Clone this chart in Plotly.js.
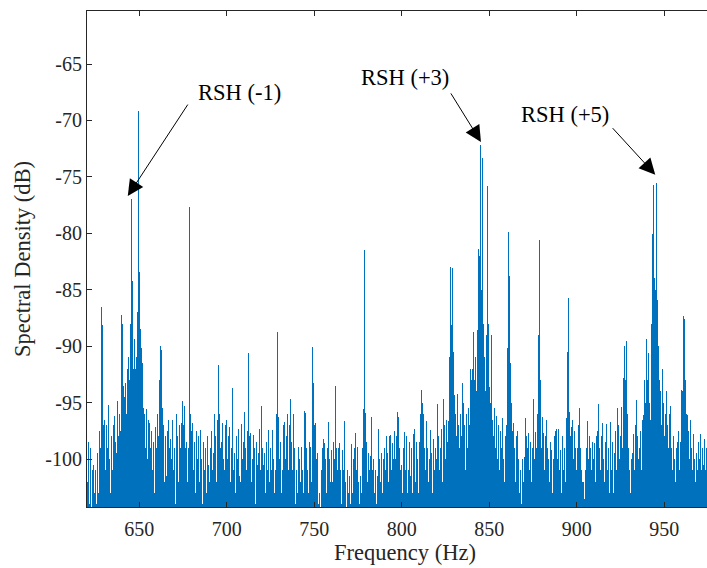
<!DOCTYPE html>
<html>
<head>
<meta charset="utf-8">
<script src="https://cdn.plot.ly/plotly-3.0.1.min.js"></script>
<style>html,body{margin:0;padding:0;background:#fff;overflow:hidden;width:707px;height:568px}</style>
</head>
<body>
<div id="chart" style="width:723px;height:568px"></div>
<script>
// Spectrum sampled every 0.5 Hz starting at 620 Hz (dB)
const freqStart = 620;
const freqStep = 0.5;
const density = [
// 620
-97.0,-102,-98.5,-104,-99,-105,-101,-106,-100.5,-103,
-101,-104,-99.5,-103,-97.5,-101,-99,-86.5,-88.1,-97,
-96.5,-101,-97,-95.5,-99,-95.2,-100,-103,-98,-101,
-97,-100,-96.2,-98.5,-99.5,-94.9,-98,-96,-97.5,-92.5,
// 640
-87.2,-88,-93.5,-94.5,-93.3,-96,-92,-95,-91,-93,
-88,-77.0,-84.2,-92,-89.4,-93.5,-92,-91,-87,-69.2,
-83.4,-88.5,-90.2,-93,-91.5,-95.5,-96,-99,-95.6,-100,
-96.5,-102,-96.8,-99,-97.5,-101,-98.5,-103,-97.2,-100,
// 660
-99,-96,-98,-93,-90.0,-90.3,-95.5,-100,-97,-102,
-98,-101.5,-97.5,-96.5,-99,-103,-98.2,-100,-96.5,-101,
-99,-104,-96,-100.5,-98,-102,-97,-99,-96.8,-94.9,
-97,-101,-95.3,-99,-98.5,-102,-99,-77.7,-96,-100,
// 680
-97.5,-96.8,-101,-98.5,-103,-97.5,-100,-95.3,-98,-102,
-97.4,-100,-104,-98.5,-101,-97.4,-99,-103,-98,-100.5,
-102,-99,-97.5,-97.4,-101,-99.5,-96,-98,-102,-96.5,
-91.7,-92.2,-96,-99,-98.5,-96.8,-100,-101,-97,-94.1,
// 700
-96.5,-100,-98,-97.2,-102,-99,-93.7,-97.2,-101,-99.5,
-103,-98,-100,-97.3,-101.5,-99,-102,-96.9,-100,-98.5,
-95.8,-99,-101,-98,-97.5,-90.6,-98,-97.7,-102,-100,
-97.9,-101,-99,-104,-98.5,-100.5,-99.5,-97.3,-101,-98,
// 720
-95.3,-99,-100.5,-99.5,-103,-98.5,-101,-100,-97.4,-102,
-99,-101,-97.4,-100,-103,-98.2,-101,-96,-88.7,-96.3,
-100,-98.5,-103,-99,-101,-97,-96.7,-100,-98,-96,
-101,-99,-97,-94.7,-98.5,-101,-96,-99,-104,-98.5,
// 740
-101,-103,-98.9,-100,-102,-98.9,-101,-99.5,-103,-95.7,
-95.9,-99,-101,-103,-98.5,-100,-98.9,-102,-90.1,-93.3,
-97,-96.8,-100,-102,-99.5,-104,-103,-105,-101,-99,
-98.2,-101,-98.6,-100,-103,-99,-96.7,-100,-102,-99.5,
// 760
-99.2,-102,-98.5,-100,-93.5,-99,-101,-103,-99,-98.6,
-101,-104,-99.2,-101,-96.6,-100,-102,-105,-101,-103,
-101.5,-104,-98.7,-101,-103,-100,-99,-97.7,-101,-98.9,
-102,-100,-104,-101.5,-103,-99,-95.6,-81.5,-95.9,-100,
// 780
-98.5,-102,-99.5,-101,-99.7,-96.3,-101,-97,-100,-103,
-101,-104,-101.5,-97.3,-100,-97.8,-102,-99.5,-103,-100,
-99,-101,-98,-95.6,-99.5,-102,-98,-97.9,-101,-98.6,
-100,-103,-97.5,-100,-98,-95.8,-96.3,-99,-101,-98.5,
// 800
-100.5,-103,-99,-97.6,-101,-98,-103,-99.5,-101,-98.5,
-101.5,-99,-103,-97.8,-97.3,-100,-102,-98.5,-100,-103,
-98.5,-96,-93.9,-89.3,-95,-96,-99,-101,-96.6,-99,
-102,-98.5,-100,-97.4,-99.5,-103,-98.2,-101,-99,-97.5,
// 820
-100,-95.1,-98,-101,-99,-97.3,-102,-98,-94.7,-97,
-100,-96.5,-98.5,-96.6,-91,-84.1,-83.0,-88.1,-83.1,-90.5,
-94.3,-96,-98,-94.5,-94.2,-97,-99,-96,-98,-93.3,
-95,-99.4,-97,-101,-96,-99,-95.5,-97,-92,-89.0,
// 840
-93,-92,-88.7,-93,-91,-94,-88.6,-86,-81.4,-82,
-72.2,-85,-73.3,-88,-91.0,-92.5,-94,-89,-75.8,-88,
-93.6,-95,-89,-94,-96.5,-98,-95.5,-99,-96.2,-100,
-97,-98.5,-101,-97.5,-99,-96.4,-100,-102,-98,-95.5,
// 860
-97,-90.2,-79.9,-83.8,-91.5,-95,-97.5,-100,-96.8,-99,
-102,-98,-97.5,-100,-103,-99,-101,-104,-100,-102,
-99.8,-96.4,-98,-93.7,-99,-97.7,-101,-98.5,-102,-99,
-94.7,-98,-100,-97.6,-99,-96,-89,-80.6,-93,-95.5,
// 880
-99,-96.3,-97.7,-101,-98,-96.5,-99,-96.5,-100,-102,
-98.5,-99.2,-103,-100,-98,-101,-97.5,-97.3,-100,-97.3,
-101,-99.2,-103,-100,-98,-101,-99,-102,-96.4,-90.5,
-85.7,-93,-95.8,-98,-97.2,-96.5,-100,-97.5,-99,-97.1,
// 900
-101,-99,-97,-95.5,-99,-101,-102,-104,-102,-103.5,
-101,-99,-96.6,-100,-98,-95.1,-99,-101,-98.5,-100,
-98.6,-102,-98,-100,-97.5,-95.1,-99,-101,-98,-96.8,
-100,-97,-102,-98.5,-96.9,-101,-99,-103,-96.7,-99,
// 920
-101,-98.5,-103,-99.5,-97.5,-101,-95.5,-99,-97,-100,
-98,-95.4,-99,-92.8,-90,-80.3,-93,-89.5,-96,-99,
-101,-103,-100,-97,-99.5,-97.8,-101,-97,-94.8,-98,
-100,-96.5,-99,-97.5,-101,-96.5,-96.1,-93,-95,-92,
// 940
-89.4,-93,-90.6,-95,-96.5,-88,-80.1,-81.5,-75.7,-84,
-85,-75.5,-85.9,-90,-93,-95.7,-94,-97,-92,-95,
-98,-96,-94,-91.5,-97,-99,-96,-95.3,-99,-101,
-98,-97.3,-100,-102,-99,-98.5,-97.5,-101,-98.5,-96,
// 960
-93.9,-94,-87.3,-87.6,-93,-96,-96.1,-99,-97.5,-100,
-96.5,-99,-101,-97.8,-100,-98.3,-102,-99.5,-101,-98.5,
-100,-97.8,-101,-103,-99,-100.5,-98.2,-101,-99,-102,
-98
];

const xTicks = [650, 700, 750, 800, 850, 900, 950];
const yTicks = [-100, -95, -90, -85, -80, -75, -70, -65];
const xRange = [620.1, 983.5];
const yRange = [-104.25, -60.3];
const floorLevel = -120;

const labels = ['RSH (-1)', 'RSH (+3)', 'RSH (+5)'];
const labelX = [707.0, 801.8, 893.2];
const labelY = [-67.5, -66.2, -69.5];
const arrowTipX = [643.4, 845.2, 944.8];
const arrowTipY = [-76.7, -71.9, -74.8];
const arrowAX = [61, -31, -44];
const arrowAY = [-93, -50, -48];

const blue = '#0072BD';
const axisCol = '#262626';
const serif = 'Liberation Serif, Times New Roman, serif';

const freqs = density.map((_, i) => freqStart + i * freqStep);
const heights = density.map(v => v - floorLevel);

const traces = [
  {type: 'bar', x: freqs, y: heights, base: floorLevel, width: freqStep,
   marker: {color: blue, line: {width: 0}}, showlegend: false}
];

const annotations = [];
for (let i = 0; i < labels.length; i++) {
  annotations.push({x: labelX[i], y: labelY[i], xref: 'x', yref: 'y', text: labels[i],
    showarrow: false, font: {family: serif, size: 22.5, color: '#000'}, xanchor: 'center', yanchor: 'middle'});
  annotations.push({x: arrowTipX[i], y: arrowTipY[i], xref: 'x', yref: 'y', text: '',
    showarrow: true, ax: arrowAX[i], ay: arrowAY[i], arrowhead: 2, arrowsize: 3.2, arrowwidth: 1, arrowcolor: '#000'});
}

const layout = {
  width: 723, height: 568,
  margin: {l: 87, r: 0, t: 11, b: 61},
  paper_bgcolor: '#fff', plot_bgcolor: '#fff',
  showlegend: false, bargap: 0,
  font: {family: serif, color: axisCol},
  xaxis: {
    range: xRange, tickvals: xTicks, ticktext: xTicks.map(String), ticks: 'inside', ticklen: 5, tickcolor: axisCol,
    showline: true, linecolor: axisCol, linewidth: 1, mirror: 'ticks', showgrid: false, zeroline: false,
    ticklabelstandoff: 4,
    tickfont: {family: serif, size: 20, color: axisCol},
    title: {text: 'Frequency (Hz)', font: {family: serif, size: 22.5, color: axisCol}, standoff: 3}
  },
  yaxis: {
    range: yRange, tickvals: yTicks, ticktext: yTicks.map(String), ticks: 'inside', ticklen: 5, tickcolor: axisCol,
    showline: true, linecolor: axisCol, linewidth: 1, mirror: false, showgrid: false, zeroline: false,
    tickfont: {family: serif, size: 20, color: axisCol},
    title: {text: 'Spectral Density (dB)', font: {family: serif, size: 22.5, color: axisCol}, standoff: 8}
  },
  annotations: annotations
};

Plotly.newPlot('chart', traces, layout, {staticPlot: true, displayModeBar: false});
</script>
</body>
</html>
